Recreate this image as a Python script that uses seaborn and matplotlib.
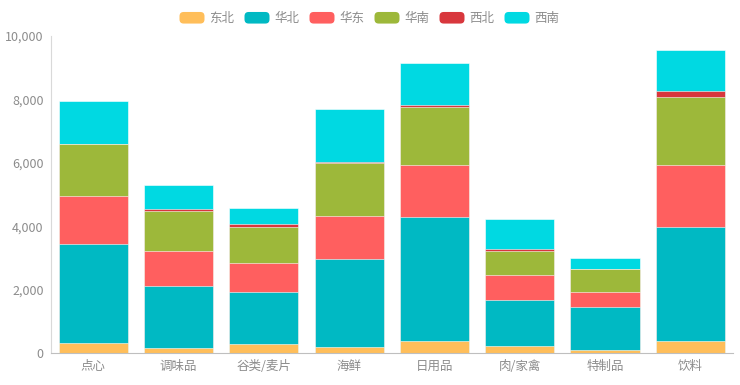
import matplotlib
matplotlib.use("Agg")
import matplotlib.pyplot as plt
from matplotlib.patches import Patch, FancyBboxPatch
from matplotlib.legend_handler import HandlerPatch
from matplotlib.ticker import FuncFormatter
import seaborn as sns
import numpy as np
import pandas as pd

categories = ["点心", "调味品", "谷类/麦片", "海鲜", "日用品", "肉/家禽", "特制品", "饮料"]
regions = ["东北", "华北", "华东", "华南", "西北", "西南"]

dongbei = [314, 157, 283, 176, 377, 208, 104, 387]
huabei = [3114, 1950, 1635, 2780, 3909, 1459, 1343, 3585]
huadong = [1528, 1119, 912, 1352, 1635, 786, 490, 1949]
huanan = [1648, 1239, 1142, 1686, 1824, 764, 714, 2170]
xibei = [0, 63, 94, 20, 73, 63, 0, 167]
xinan = [1330, 764, 494, 1690, 1333, 934, 355, 1289]

colors = ["#ffbe5a", "#00b9c3", "#ff5f5f", "#9db83a", "#d8373d", "#00d9e2"]


class RoundBoxHandler(HandlerPatch):
    # legend swatches with rounded corners
    def create_artists(self, legend, orig_handle, xdescent, ydescent,
                       width, height, fontsize, trans):
        p = FancyBboxPatch((-xdescent, -ydescent), width, height,
                           boxstyle="round,pad=0,rounding_size=3",
                           facecolor=orig_handle.get_facecolor(),
                           edgecolor="none", transform=trans)
        return [p]


sns.set_theme(style="white")
plt.rcParams["font.family"] = ["Noto Sans CJK SC", "DejaVu Sans"]

df = pd.DataFrame(
    {"category": categories, "东北": dongbei, "华北": huabei, "华东": huadong,
     "华南": huanan, "西北": xibei, "西南": xinan}
)
cum = df[regions].cumsum(axis=1)

fig = plt.figure(figsize=(7.4, 3.85), dpi=100)
ax = fig.add_axes([50.5 / 740, 1 - 353 / 385, (733 - 50.5) / 740, (353 - 36) / 385])

# draw cumulative totals from the top series down so each layer shows
for reg, col in zip(reversed(regions), reversed(colors)):
    sns.barplot(x=df["category"], y=cum[reg], color=col, width=0.81,
                edgecolor="white", linewidth=0.4, saturation=1, ax=ax)

ax.set_ylim(0, 10000)
ax.set_yticks(np.arange(0, 10001, 2000))
ax.yaxis.set_major_formatter(FuncFormatter(lambda v, p: f"{int(v):,}"))
ax.set_xlabel("")
ax.set_ylabel("")
ax.tick_params(axis="both", length=0, labelsize=9, labelcolor="#8c8c8c", pad=5)

for side in ["top", "right"]:
    ax.spines[side].set_visible(False)
ax.spines["left"].set_color("#d9d9d9")
ax.spines["bottom"].set_color("#bfbfbf")
ax.spines["left"].set_linewidth(0.8)
ax.spines["bottom"].set_linewidth(0.8)

handles = [Patch(facecolor=c, edgecolor="none", label=r) for r, c in zip(regions, colors)]
fig.legend(handles=handles, loc="center", bbox_to_anchor=(369.5 / 740, 1 - 18.5 / 385), ncol=6,
           frameon=False, fontsize=9, labelcolor="#8c8c8c", handlelength=2.0,
           handleheight=1.05, handletextpad=0.4, columnspacing=0.8,
           handler_map={Patch: RoundBoxHandler()})

fig.savefig("out.png", dpi=100)
